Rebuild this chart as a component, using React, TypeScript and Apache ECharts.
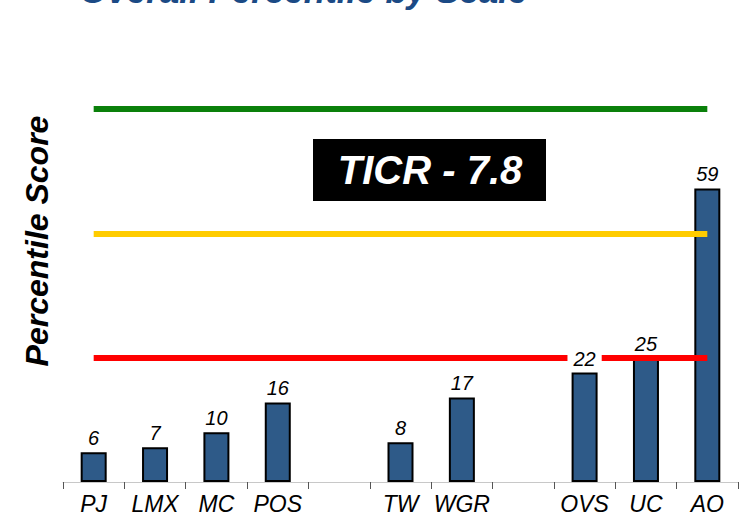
import React, { useEffect, useRef } from "react";
import * as echarts from "echarts";

const categories = ["PJ", "LMX", "MC", "POS", " ", "TW", "WGR", "  ", "OVS", "UC", "AO"];
const percentiles: (number | string)[] = [6, 7, 10, 16, "-", 8, 17, "-", 22, 25, 59];
const thresholds = [
  { value: 75, color: "#0A800A" },
  { value: 50, color: "#FFCC00" },
  { value: 25, color: "#FF0000" },
];
const titleText = "Overall Percentile by Scale";
const yAxisTitle = "Percentile Score";
const badgeText = "TICR - 7.8";
const highlightedLabel = "OVS";

const FONT = "'Liberation Sans', Arial, sans-serif";

export default function App() {
  const ref = useRef<HTMLDivElement>(null);
  useEffect(() => {
    if (!ref.current) return;
    const chart = echarts.init(ref.current, null, { renderer: "svg" });
    chart.setOption({
      animation: false,
      backgroundColor: "#ffffff",
      grid: { left: 63, right: 2, top: 84, bottom: 37, containLabel: false },
      xAxis: {
        type: "category",
        data: categories,
        boundaryGap: true,
        axisLine: { show: true, lineStyle: { color: "#c8c8c8", width: 1 } },
        axisTick: { show: true, interval: 0, length: 7, lineStyle: { color: "#555555", width: 1 } },
        axisLabel: {
          interval: 0,
          color: "#000000",
          fontFamily: FONT,
          fontStyle: "italic",
          fontSize: 23,
          margin: 10,
        },
      },
      yAxis: {
        type: "value",
        min: 0,
        max: 80,
        show: false,
        splitLine: { show: false },
      },
      series: [
        {
          type: "bar",
          data: percentiles,
          barWidth: 26,
          z: 2,
          itemStyle: { color: "#2E5A88", borderColor: "#000000", borderWidth: 2 },
          label: { show: false },
          markLine: {
            silent: true,
            symbol: ["none", "none"],
            z: 5,
            label: { show: false },
            data: thresholds.map((t) => [
              { xAxis: categories[0], yAxis: t.value, lineStyle: { color: t.color, width: 6, type: "solid" } },
              { xAxis: categories[categories.length - 1], yAxis: t.value },
            ]),
          },
        },
        {
          type: "scatter",
          data: percentiles.map((v, i) =>
            categories[i] === highlightedLabel
              ? { value: v, label: { backgroundColor: "#ffffff", padding: [0, 6, 0, 6] } }
              : v
          ),
          symbolSize: 0,
          z: 10,
          silent: true,
          itemStyle: { opacity: 1 },
          label: {
            show: true,
            position: "top",
            distance: 4,
            color: "#000000",
            opacity: 1,
            fontFamily: FONT,
            fontStyle: "italic",
            fontSize: 20,
            formatter: (p: any) => String(p.value),
          },
        },
      ],
      graphic: [
        {
          type: "text",
          left: 80,
          top: -27,
          style: {
            text: titleText,
            fill: "#1B4A85",
            font: `italic bold 35px ${FONT}`,
          },
        },
        {
          type: "text",
          x: 37,
          y: 241,
          rotation: Math.PI / 2,
          style: {
            text: yAxisTitle,
            fill: "#000000",
            font: `italic bold 32px ${FONT}`,
            align: "center",
            verticalAlign: "middle",
          },
        },
        {
          type: "rect",
          shape: { x: 313, y: 139, width: 233, height: 62 },
          style: { fill: "#000000" },
        },
        {
          type: "text",
          x: 430,
          y: 170,
          style: {
            text: badgeText,
            fill: "#ffffff",
            font: `italic bold 40px ${FONT}`,
            align: "center",
            verticalAlign: "middle",
          },
        },
      ],
    });
    return () => chart.dispose();
  }, []);
  return (
    <div
      ref={ref}
      style={{ position: "fixed", left: 0, top: 0, width: 740, height: 519, background: "#fff" }}
    />
  );
}
